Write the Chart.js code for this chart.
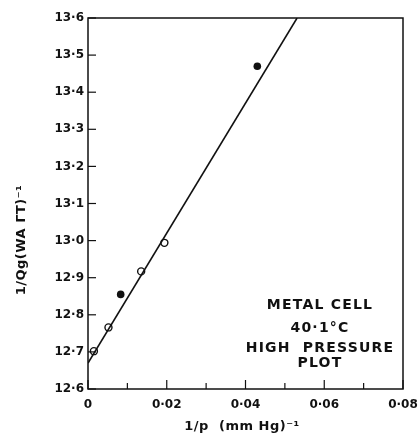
<!DOCTYPE html>
<html>
<head>
<meta charset="utf-8">
<script src="https://cdn.jsdelivr.net/npm/chart.js@4.4.1/dist/chart.umd.min.js"></script>
<style>
  html, body { margin: 0; padding: 0; background: #fff; }
  #wrap { width: 420px; height: 444px; }
</style>
</head>
<body>
<div id="wrap"><canvas id="myChart"></canvas></div>
<script>
// open points (circle with a dot in the middle)
const openX = [0.0015, 0.0052, 0.0135, 0.0194];
const openY = [12.702, 12.766, 12.917, 12.994];
// solid points
const solidX = [0.0083, 0.043];
const solidY = [12.855, 13.47];
// drawn straight line
const lineX = [0, 0.0531];
const lineY = [12.67, 13.6];

const xTicks = [0, 0.02, 0.04, 0.06, 0.08];
const xTickLabels = ["0", "0·02", "0·04", "0·06", "0·08"];
const yTickLabels = ["12·6", "12·7", "12·8", "12·9", "13·0", "13·1", "13·2", "13·3", "13·4", "13·5", "13·6"];

const notes = ["METAL CELL", "40·1°C", "HIGH  PRESSURE", "PLOT"];
const xTitle = "1/p  (mm Hg)⁻¹";
const yTitle = "1/Qg(WA ΓT)⁻¹";

function pts(xs, ys) {
  return xs.map((x, i) => ({ x: x, y: ys[i] }));
}

const ink = "#111";
const font = "DejaVu Sans";

const extras = {
  id: "extras",
  afterDraw(chart) {
    const ctx = chart.ctx;
    const a = chart.chartArea;
    const xs = chart.scales.x;
    const ys = chart.scales.y;
    ctx.save();
    ctx.strokeStyle = ink;
    ctx.lineWidth = 1.5;
    ctx.strokeRect(a.left, a.top, a.right - a.left, a.bottom - a.top);

    // inward ticks
    ctx.lineWidth = 1.2;
    for (let v = 0; v <= 8; v++) {
      const px = xs.getPixelForValue(v / 100);
      const len = v % 2 === 0 ? 9 : 6;
      ctx.beginPath();
      ctx.moveTo(px, a.bottom);
      ctx.lineTo(px, a.bottom - len);
      ctx.stroke();
    }
    for (let v = 0; v <= 10; v++) {
      const py = ys.getPixelForValue(12.6 + v / 10);
      ctx.beginPath();
      ctx.moveTo(a.left, py);
      ctx.lineTo(a.left + 8, py);
      ctx.stroke();
    }

    ctx.fillStyle = ink;
    ctx.textAlign = "center";
    ctx.textBaseline = "middle";

    ctx.font = "bold 14px '" + font + "'";
    ctx.letterSpacing = "1.2px";
    const noteY = [305, 328, 348, 363];
    notes.forEach((t, i) => ctx.fillText(t, 320, noteY[i]));

    ctx.font = "bold 13px '" + font + "'";
    ctx.letterSpacing = "0.5px";
    ctx.fillText(xTitle, 242, 427);

    ctx.translate(22, 240);
    ctx.rotate(-Math.PI / 2);
    ctx.fillText(yTitle, 0, 0);
    ctx.restore();
  }
};

const myChart = new Chart(document.getElementById("myChart").getContext("2d"), {
  type: "scatter",
  data: {
    datasets: [
      {
        type: "line",
        data: pts(lineX, lineY),
        borderColor: ink,
        borderWidth: 1.6,
        pointRadius: 0,
        fill: false,
      },
      {
        data: pts(openX, openY),
        pointRadius: 3.5,
        pointBorderWidth: 1.4,
        pointBorderColor: ink,
        pointBackgroundColor: "#fff",
      },
      {
        data: pts(openX, openY),
        pointRadius: 1.4,
        pointBorderWidth: 0,
        pointBackgroundColor: ink,
      },
      {
        data: pts(solidX, solidY),
        pointRadius: 3.8,
        pointBorderWidth: 0,
        pointBackgroundColor: ink,
      },
    ],
  },
  options: {
    responsive: true,
    maintainAspectRatio: false,
    animation: false,
    layout: { padding: { left: 0, top: 18, right: 17, bottom: 0 } },
    plugins: {
      legend: { display: false },
      tooltip: { enabled: false },
    },
    scales: {
      x: {
        type: "linear",
        min: 0,
        max: 0.08,
        afterFit: (scale) => {
          scale.height = 55;
          scale.paddingLeft = 0;
          scale.paddingRight = 0;
        },
        afterBuildTicks: (scale) => { scale.ticks = xTicks.map((v) => ({ value: v })); },
        grid: { display: false, drawTicks: false },
        border: { display: false },
        ticks: {
          color: ink,
          padding: 9,
          maxRotation: 0,
          font: { family: font, size: 12, weight: "bold" },
          callback: (v) => xTickLabels[xTicks.indexOf(v)] ?? "",
        },
      },
      y: {
        type: "linear",
        min: 12.6,
        max: 13.6,
        afterFit: (scale) => {
          scale.width = 88;
          scale.paddingTop = 0;
          scale.paddingBottom = 0;
        },
        grid: { display: false, drawTicks: false },
        border: { display: false },
        ticks: {
          color: ink,
          padding: 4,
          stepSize: 0.1,
          font: { family: font, size: 12, weight: "bold" },
          callback: (v) => yTickLabels[Math.round((v - 12.6) * 10)],
        },
      },
    },
  },
  plugins: [extras],
});
</script>
</body>
</html>
